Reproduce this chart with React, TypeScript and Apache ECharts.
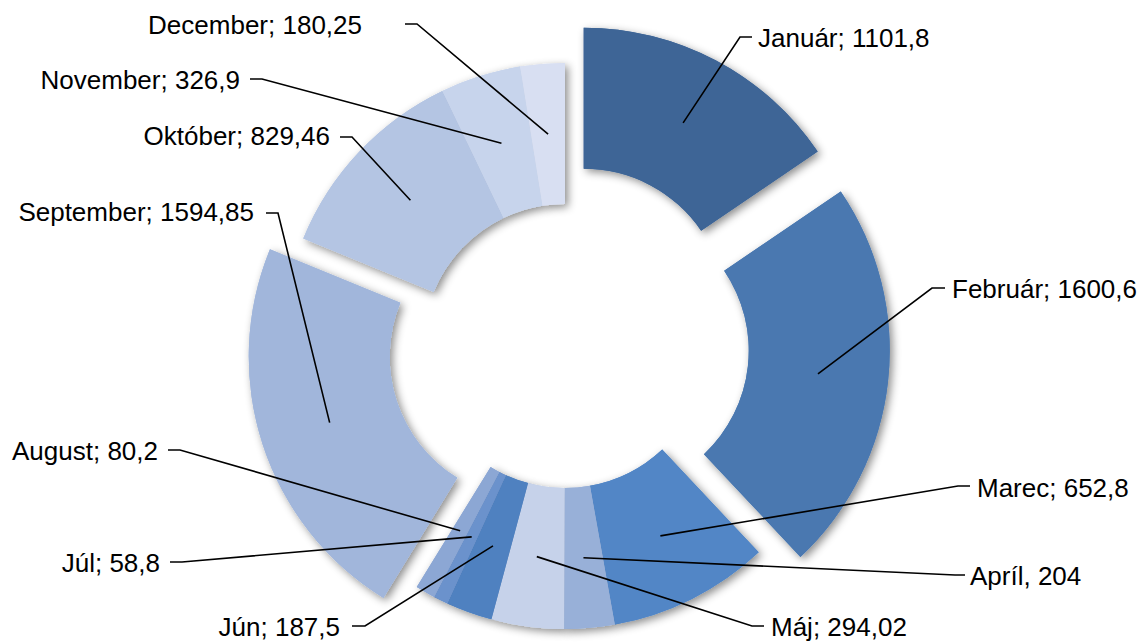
import React, { useEffect, useRef } from 'react';
import * as echarts from 'echarts';

// ---- data ----
const months = ['Január', 'Február', 'Marec', 'Apríl', 'Máj', 'Jún', 'Júl', 'August', 'September', 'Október', 'November', 'December'];
const values = [1101.8, 1600.6, 652.8, 204, 294.02, 187.5, 58.8, 80.2, 1594.85, 829.46, 326.9, 180.25];
const separators = ['; ', '; ', '; ', ', ', '; ', '; ', '; ', '; ', '; ', '; ', '; ', '; '];

// ---- style / layout ----
const colors = ['#3E6596', '#4A78B0', '#5286C6', '#98B0D8', '#C6D2EA', '#4F81C0', '#6B92CC', '#8CA7D4', '#A1B6DB', '#B4C5E3', '#C7D4EC', '#D8DFF2'];
const explode = [40, 42, 0, 0, 0, 0, 0, 0, 35, 0, 0, 0];
const CX = 565;
const CY = 346;
const R0 = 142;
const R1 = 283;
const FONT = 26;

// label text anchor, line elbow and end of the short horizontal piece
const labelText = [[758, 38], [952, 289], [977, 488], [970, 576], [771, 627], [340, 627], [160, 563], [158, 451], [254, 212], [330, 136], [240, 80], [362, 25]];
const labelElbow = [[740, 37], [932, 288], [958, 486], [955, 575], [752, 626], [365, 626], [182, 562], [180, 450], [278, 213], [352, 137], [262, 79], [417, 24]];
const labelHEnd = [752, 945, 970, 965, 764, 352, 170, 168, 266, 340, 250, 405];
const labelSide = ['left', 'left', 'left', 'left', 'left', 'right', 'right', 'right', 'right', 'right', 'right', 'right'];

const fmt = (v: number) => String(v).replace('.', ',');
const CLEAR = 'rgba(0,0,0,0)';

export default function App() {
  const ref = useRef<HTMLDivElement>(null);

  useEffect(() => {
    if (!ref.current) return;
    const chart = echarts.init(ref.current, undefined, { renderer: 'svg' });

    const total = values.reduce((a, b) => a + b, 0);
    const mids: number[] = [];
    let cum = 0;
    values.forEach((v) => {
      mids.push(((cum + v / 2) / total) * Math.PI * 2);
      cum += v;
    });

    const groups: { members: number[]; center: number[] }[] = [];
    groups.push({ members: values.map((_, i) => i).filter((i) => explode[i] === 0), center: [CX, CY] });
    values.forEach((_, i) => {
      if (explode[i] > 0) {
        groups.push({
          members: [i],
          center: [CX + explode[i] * Math.sin(mids[i]), CY - explode[i] * Math.cos(mids[i])],
        });
      }
    });

    const rm = (R0 + R1) / 2;
    const base = {
      type: 'pie',
      radius: [R0, R1],
      startAngle: 90,
      clockwise: true,
      avoidLabelOverlap: false,
      minShowLabelAngle: 0,
      silent: true,
      emphasis: { disabled: true },
    };

    const makeSeries = (g: { members: number[]; center: number[] }, top: boolean) => ({
      ...base,
      center: g.center,
      z: top ? 3 : 2,
      label: { show: false },
      labelLine: { show: false },
      itemStyle: top
        ? {}
        : { shadowBlur: 8, shadowColor: 'rgba(0,0,0,0.45)', shadowOffsetX: 3, shadowOffsetY: 3 },
      data: values.map((v, i) => ({
        name: months[i],
        value: v,
        itemStyle: { color: g.members.includes(i) ? colors[i] : CLEAR },
      })),
    });

    const labelSeries = {
      ...base,
      center: [CX, CY],
      z: 5,
      itemStyle: { color: CLEAR },
      label: {
        show: true,
        position: 'outside',
        formatter: (p: any) => months[p.dataIndex] + separators[p.dataIndex] + fmt(values[p.dataIndex]),
        color: '#000',
        fontFamily: '"Liberation Sans", Arial, sans-serif',
        fontSize: FONT,
      },
      labelLine: { show: true, length: 10, length2: 10, lineStyle: { color: '#000', width: 1.6, opacity: 1 } },
      labelLayout: (params: any) => {
        const i = params.dataIndex;
        const d = rm + explode[i];
        const inner = [CX + Math.sin(mids[i]) * d, CY - Math.cos(mids[i]) * d];
        const el = labelElbow[i];
        return {
          x: labelText[i][0],
          y: labelText[i][1],
          align: labelSide[i],
          verticalAlign: 'middle',
          hideOverlap: false,
          moveOverlap: false,
          labelLinePoints: [inner, [el[0], el[1]], [labelHEnd[i], el[1]]],
        };
      },
      data: values.map((v, i) => ({ name: months[i], value: v })),
    };

    const series: any[] = [];
    groups.forEach((g) => series.push(makeSeries(g, false)));
    groups.forEach((g) => series.push(makeSeries(g, true)));
    series.push(labelSeries);

    chart.setOption({
      animation: false,
      backgroundColor: '#fff',
      series,
    });

    return () => chart.dispose();
  }, []);

  return (
    <div
      ref={ref}
      style={{ position: 'fixed', left: 0, top: 0, width: 1140, height: 642, background: '#fff' }}
    />
  );
}
